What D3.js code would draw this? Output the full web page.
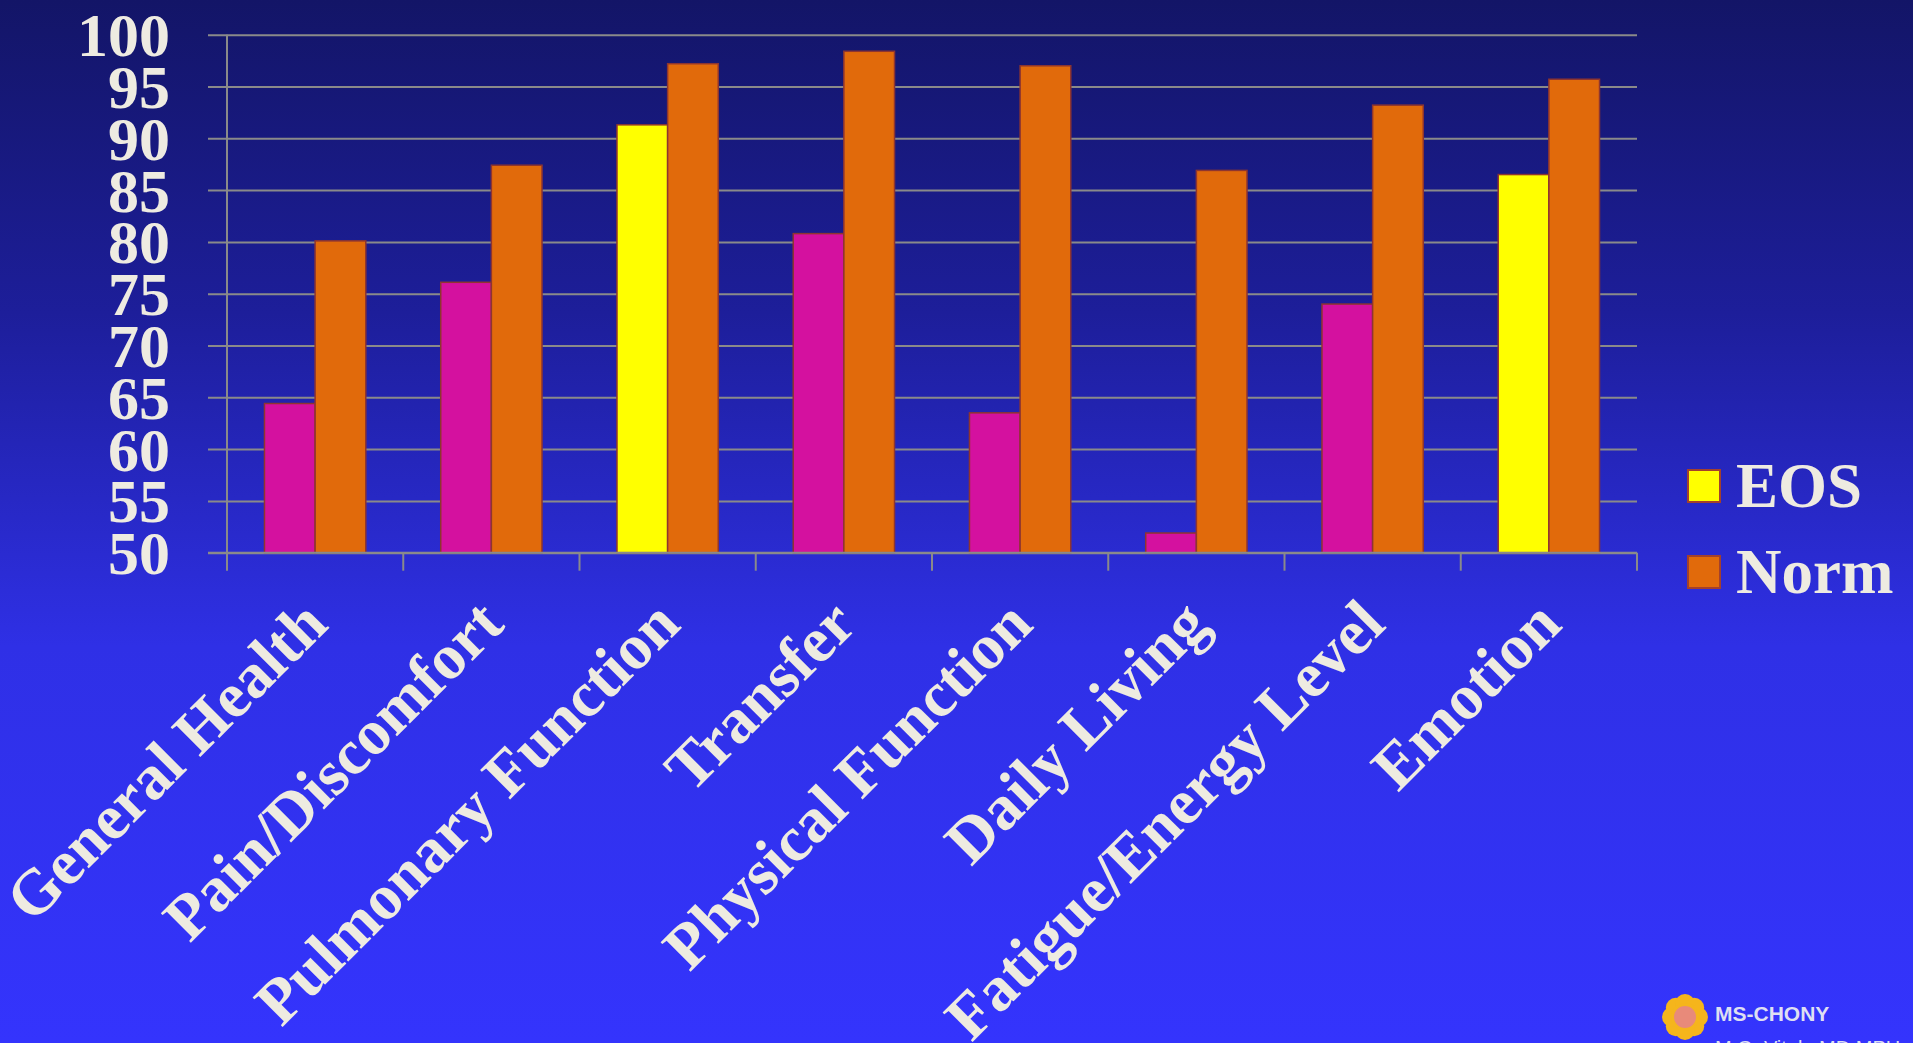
<!DOCTYPE html>
<html>
<head>
<meta charset="utf-8">
<script src="https://cdn.jsdelivr.net/npm/d3@7"></script>
<style>
  html, body { margin: 0; padding: 0; overflow: hidden; }
  body { width: 1913px; height: 1043px; }
</style>
</head>
<body>
<div id="chart"></div>
<script>
// chart values
const categories = ["General Health", "Pain/Discomfort", "Pulmonary Function", "Transfer",
                    "Physical Function", "Daily Living", "Fatigue/Energy Level", "Emotion"];
const seriesNames = ["EOS", "Norm"];
const eosValues  = [64.4, 76.1, 91.3, 80.8, 63.5, 51.9, 74.0, 86.5];
const normValues = [80.1, 87.4, 97.2, 98.4, 97.0, 86.9, 93.2, 95.7];
const yTicks = [50, 55, 60, 65, 70, 75, 80, 85, 90, 95, 100];

const W = 1913, H = 1043;
const plotL = 227, plotR = 1637, plotT = 34.7, plotB = 552.7;

// EOS bars are magenta except where they come close to norm
const eosYellow = ["Pulmonary Function", "Emotion"];
const colMagenta = "#d4119f", colOrange = "#e16a0b", colYellow = "#ffff00";
const barStroke = "#8e3530", gridCol = "#8a8a8a", textCol = "#eeebe1";

const svg = d3.select("#chart").append("svg")
    .attr("width", W)
    .attr("height", H);

const grad = svg.append("defs").append("linearGradient")
    .attr("id", "bg")
    .attr("x1", 0).attr("y1", 0).attr("x2", 0).attr("y2", 1);
grad.append("stop").attr("offset", "0%").attr("stop-color", "#131567");
grad.append("stop").attr("offset", "30%").attr("stop-color", "#1d1e9a");
grad.append("stop").attr("offset", "62%").attr("stop-color", "#2f30e6");
grad.append("stop").attr("offset", "100%").attr("stop-color", "#3434fd");

svg.append("rect").attr("width", W).attr("height", H).attr("fill", "url(#bg)");

const x0 = d3.scaleBand().domain(categories).range([plotL, plotR]);
const x1 = d3.scaleBand().domain(seriesNames).range([0, x0.bandwidth()]).paddingOuter(0.74);
const y = d3.scaleLinear().domain([50, 100]).range([plotB, plotT]);

// gridlines (also make the small ticks left of the axis)
svg.append("g")
    .attr("transform", `translate(${plotR},0)`)
    .call(d3.axisLeft(y).tickValues(yTicks).tickSize(plotR - 208).tickFormat(""))
    .call(g => g.select(".domain").remove())
    .call(g => g.selectAll("line").attr("stroke", gridCol).attr("stroke-width", 2));

// y labels
svg.append("g")
    .attr("transform", `translate(${plotL},0)`)
    .call(d3.axisLeft(y).tickValues(yTicks).tickSize(0).tickPadding(57))
    .call(g => g.select(".domain").remove())
    .call(g => g.selectAll("text")
        .attr("fill", textCol)
        .attr("font-family", "'Liberation Serif', 'Times New Roman', serif")
        .attr("font-weight", "bold")
        .attr("font-size", 62)
        .attr("dy", "0.34em"));

// bars
const groups = svg.append("g").selectAll("g")
    .data(categories)
    .join("g")
    .attr("transform", d => `translate(${x0(d)},0)`);

groups.selectAll("rect")
    .data((d, i) => [
        {s: "EOS", v: eosValues[i], c: eosYellow.includes(d) ? colYellow : colMagenta},
        {s: "Norm", v: normValues[i], c: colOrange}
    ])
    .join("rect")
    .attr("x", d => x1(d.s))
    .attr("width", x1.bandwidth())
    .attr("y", d => y(d.v))
    .attr("height", d => y(50) - y(d.v))
    .attr("fill", d => d.c)
    .attr("stroke", barStroke)
    .attr("stroke-width", 1.5);

// axis lines
svg.append("line")
    .attr("x1", plotL).attr("x2", plotL).attr("y1", y(100)).attr("y2", plotB + 18)
    .attr("stroke", gridCol).attr("stroke-width", 2);
svg.append("line")
    .attr("x1", 208).attr("x2", plotR).attr("y1", plotB).attr("y2", plotB)
    .attr("stroke", gridCol).attr("stroke-width", 2);
svg.append("g").selectAll("line")
    .data(categories.slice(1).map(c => x0(c)).concat([plotR]))
    .join("line")
    .attr("x1", d => d).attr("x2", d => d)
    .attr("y1", plotB).attr("y2", plotB + 18)
    .attr("stroke", gridCol).attr("stroke-width", 2);

// category labels
svg.append("g").selectAll("text")
    .data(categories)
    .join("text")
    .attr("transform", d => `translate(${x0(d) + x0.bandwidth() / 2 + 15},627) rotate(-45)`)
    .attr("text-anchor", "end")
    .attr("fill", textCol)
    .attr("font-family", "'Liberation Serif', 'Times New Roman', serif")
    .attr("font-weight", "bold")
    .attr("font-size", 64)
    .text(d => d);

// legend
const legend = svg.append("g").selectAll("g")
    .data([{name: "EOS", c: colYellow}, {name: "Norm", c: colOrange}])
    .join("g")
    .attr("transform", (d, i) => `translate(1688,${470 + i * 86})`);
legend.append("rect")
    .attr("width", 32).attr("height", 32)
    .attr("fill", d => d.c)
    .attr("stroke", "#a3402c").attr("stroke-width", 2);
legend.append("text")
    .attr("x", 48).attr("y", 37)
    .attr("fill", textCol)
    .attr("font-family", "'Liberation Serif', 'Times New Roman', serif")
    .attr("font-weight", "bold")
    .attr("font-size", 63)
    .text(d => d.name);

// logo, bottom right
const logo = svg.append("g").attr("transform", "translate(1685,1017)");
d3.range(8).forEach(k => {
    const a = k * Math.PI / 4;
    logo.append("circle")
        .attr("cx", 13 * Math.cos(a)).attr("cy", 13 * Math.sin(a))
        .attr("r", 10).attr("fill", "#f5b51c");
});
logo.append("circle").attr("r", 14).attr("fill", "#f5b51c");
logo.append("circle").attr("r", 11).attr("fill", "#e88a7a");
svg.append("text")
    .attr("x", 1715).attr("y", 1021)
    .attr("fill", "#dedff2")
    .attr("font-family", "'Liberation Sans', Arial, sans-serif")
    .attr("font-weight", "bold")
    .attr("font-size", 21)
    .text("MS-CHONY");
svg.append("text")
    .attr("x", 1715).attr("y", 1055)
    .attr("fill", "#dedff2")
    .attr("font-family", "'Liberation Sans', Arial, sans-serif")
    .attr("font-size", 20)
    .text("M.G. Vitale MD MPH");
</script>
</body>
</html>
